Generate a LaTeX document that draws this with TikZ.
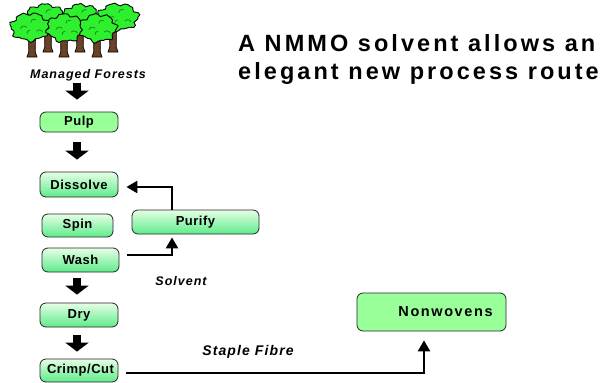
\documentclass[tikz,border=0pt]{standalone}
\usepackage{fontspec}
\setmainfont{Liberation Sans}
\newfontfamily\titlefont[LetterSpace=13]{Liberation Sans}
\newfontfamily\boxfont[LetterSpace=4]{Liberation Sans}
\newfontfamily\widefont[LetterSpace=11]{Liberation Sans}
\newfontfamily\notefont[LetterSpace=8]{Liberation Sans}
\usetikzlibrary{arrows.meta,calc}

\definecolor{flatgreen}{HTML}{99FF99}
\definecolor{shadetop}{HTML}{E6FFE6}
\definecolor{shadebot}{HTML}{5EEB8A}
\definecolor{leaf}{HTML}{2EF02E}
\definecolor{leafdark}{HTML}{1E8C1E}
\definecolor{bark}{HTML}{6B4226}

\tikzset{
  stepbox/.style={draw=black!85, line width=0.8pt, rounded corners=6pt,
    font=\boxfont\bfseries\fontsize{13}{15}\selectfont, inner sep=0pt},
  flatbox/.style={stepbox, fill=flatgreen},
  shadebox/.style={stepbox, top color=shadetop, bottom color=shadebot},
  blockarrow/.style={line width=7.5pt, -{Triangle[length=9pt,width=23pt]}},
  conn/.style={line width=2.4pt, -{Triangle[length=11pt,width=12pt]}},
  note/.style={font=\notefont\bfseries\itshape\fontsize{12.5}{14}\selectfont, inner sep=0pt},
  bignote/.style={font=\notefont\bfseries\itshape\fontsize{14}{16}\selectfont, inner sep=0pt},
  headline/.style={font=\titlefont\bfseries\fontsize{23.5}{28}\selectfont, inner sep=0pt, anchor=base west},
  crownedge/.style={fill=leaf, draw=black, line width=0.9pt},
  crownmark/.style={draw=leafdark, line width=0.8pt, line cap=round},
  trunkedge/.style={fill=bark, draw=black, line width=0.7pt},
}

% lumpy tree crown: centre x, centre y, radius x, radius y, phase
\newcommand\crownblob[5]{%
  \path[crownedge] plot[smooth cycle, samples=40, domain=0:351, variable=\t]
    ({#1+#3*(1+0.09*sin(7*\t+#5)+0.06*sin(13*\t+2*#5))*cos(\t)},
     {#2+#4*(1+0.09*sin(7*\t+#5)+0.06*sin(13*\t+2*#5))*sin(\t)});
  \draw[crownmark] (#1-0.5*#3,#2+0.1*#4) arc[start angle=200, end angle=320, radius=3.5];
  \draw[crownmark] (#1+0.05*#3,#2-0.35*#4) arc[start angle=180, end angle=300, radius=3];
  \draw[crownmark] (#1+0.35*#3,#2+0.3*#4) arc[start angle=220, end angle=340, radius=3.5];
  \draw[crownmark] (#1-0.15*#3,#2+0.5*#4) arc[start angle=160, end angle=280, radius=2.5];
}
% tree trunk: x, top y, bottom y
\newcommand\trunkat[3]{%
  \path[trunkedge] (#1-3.5,#2) -- (#1+3.5,#2) -- (#1+3.2,#3-5) -- (#1+5,#3)
    -- (#1-5,#3) -- (#1-3.2,#3-5) -- cycle;
}

\begin{document}
\begin{tikzpicture}[x=1pt, y=-1pt]
  \fill[white] (0,0) rectangle (611,383);
  \useasboundingbox (0,0) rectangle (611,383);

  % forest: back row, then front row
  \trunkat{48}{25}{52}
  \trunkat{80}{25}{52}
  \trunkat{113}{25}{52}
  \crownblob{45}{17}{19}{12.5}{0}
  \crownblob{81}{17}{18}{12.5}{70}
  \crownblob{118}{17}{20}{13}{140}
  \trunkat{32}{35}{57}
  \trunkat{64}{35}{57}
  \trunkat{97}{35}{57}
  \crownblob{30}{27}{19}{13.5}{200}
  \crownblob{65}{28}{18}{13.5}{40}
  \crownblob{98}{28}{18}{13.5}{110}

  \node[note] (forests) at (88,75.5) {Managed Forests};

  % title
  \node[headline] (title1) at (238,51) {A NMMO solvent allows an};
  \node[headline] (title2) at (238,79) {elegant new process route};

  % process steps
  \node[flatbox, minimum width=78pt, minimum height=20pt] (pulp) at (79,122) {Pulp};
  \node[shadebox, minimum width=78pt, minimum height=25pt] (dissolve) at (79,184.5) {Dissolve};
  \node[shadebox, minimum width=71pt, minimum height=23pt] (spin) at (77.5,225.5) {Spin};
  \node[shadebox, minimum width=77pt, minimum height=24pt] (wash) at (80.5,260) {Wash};
  \node[shadebox, minimum width=127pt, minimum height=24pt] (purify) at (195.5,222) {Purify\hspace{29pt}};
  \node[shadebox, minimum width=78pt, minimum height=24pt] (dry) at (79,315) {Dry};
  \node[shadebox, minimum width=78pt, minimum height=23pt] (crimp) at (79,370.5) {\hspace{3pt}Crimp/Cut};
  \node[flatbox, minimum width=149pt, minimum height=38pt,
        font=\widefont\bfseries\fontsize{14.5}{16}\selectfont] (nonwovens) at (431.5,312) {\hspace{28pt}Nonwovens};

  \node[note] (solvent) at (181,281) {Solvent};
  \node[bignote] (staple) at (248,352) {Staple Fibre};

  % main flow
  \draw[blockarrow, shorten >=12pt] ($(pulp.north |- forests.south)+(-2,1)$) -- ($(pulp.north)+(-2,0)$);
  \draw[blockarrow, shorten <=10pt, shorten >=12pt] ($(pulp.south)+(-2,0)$) -- ($(dissolve.north)+(-2,0)$);
  \draw[blockarrow, shorten <=6pt, shorten >=8pt] ($(dry.north |- wash.south)+(-2,0)$) -- ($(dry.north)+(-2,0)$);
  \draw[blockarrow, shorten <=8pt, shorten >=7pt] ($(dry.south)+(-2,0)$) -- ($(crimp.north)+(-2,0)$);

  % solvent recovery loop and product route
  \draw[conn] ([xshift=-23.5pt]purify.north) |- ([xshift=8pt,yshift=-2.5pt]dissolve.east);
  \draw[conn] ([xshift=8pt,yshift=5pt]wash.east) -| ([xshift=-23.5pt,yshift=-3pt]purify.south);
  \draw[conn] ([xshift=8pt,yshift=-2.5pt]crimp.east) -| ([xshift=-7.5pt,yshift=-9pt]nonwovens.south);
\end{tikzpicture}
\end{document}
